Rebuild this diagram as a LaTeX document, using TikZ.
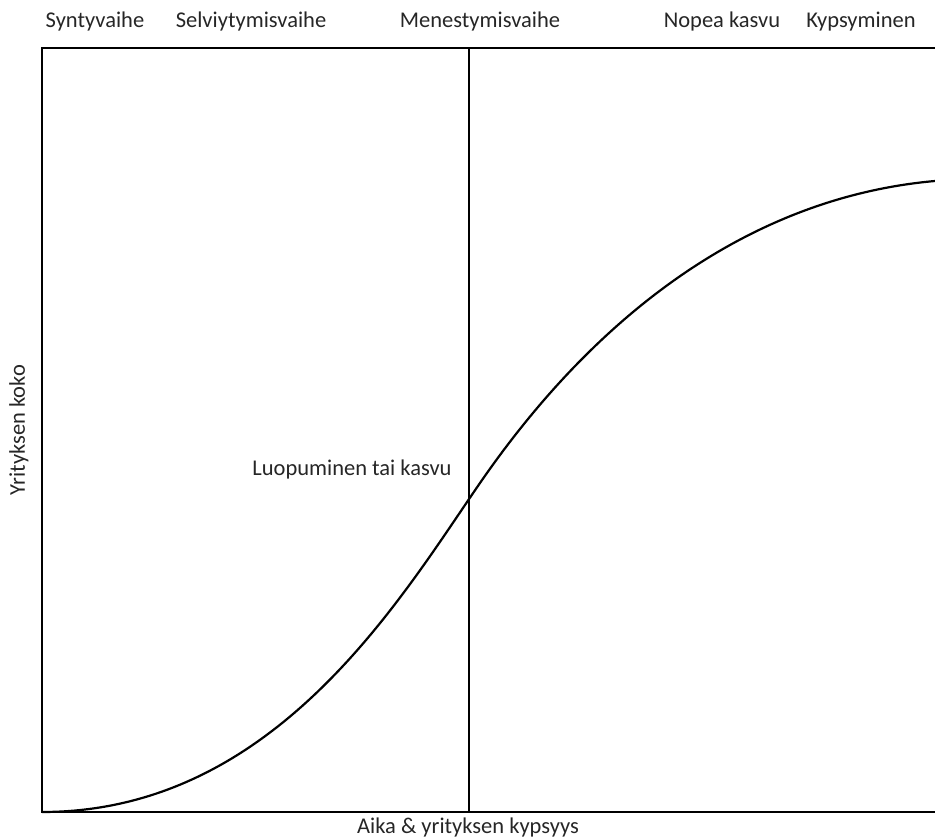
\documentclass[tikz,border=0pt]{standalone}
\usepackage{fontspec}
\setmainfont{Carlito}
\usepackage{tikz}
\definecolor{labelgray}{HTML}{262626}

\tikzset{
  stagelabel/.style={font=\fontsize{22.5}{26}\selectfont, text=labelgray, inner sep=0pt},
  axisline/.style={line width=2.6pt},
  curveline/.style={line width=2.2pt, line join=round}
}

\begin{document}
\begin{tikzpicture}[x=1pt, y=1pt]
\useasboundingbox (0,0) rectangle (935,839);

% ---- Frame (right side runs off the page) ----
\draw[axisline] (935,791) -- (42,791) -- (42,27) -- (935,27);

% Divider between stages
\coordinate (divtop) at (469,791);
\coordinate (divbot) at (469,27);
\draw[line width=2pt] (divtop) -- (divbot);

% ---- Stage labels along the top ----
\node[stagelabel] (synty) at (95,817) {Syntyvaihe};
\node[stagelabel] (selvi) at (251,817) {Selviytymisvaihe};
\node[stagelabel] (menes) at (480,817) {Menestymisvaihe};
\node[stagelabel] (nopea) at (722,817) {Nopea kasvu};
\node[stagelabel] (kypsy) at (861,817) {Kypsyminen};

% ---- Axis titles ----
\node[stagelabel] (xtitle) at (468,12) {Aika \& yrityksen kypsyys};
\node[stagelabel, rotate=90] (ytitle) at (19,409) {Yrityksen koko};

% Label at the crossing point
\node[stagelabel] (luopu) at (352,369) {Luopuminen tai kasvu};

% ---- Growth curve (S-shape, two halves meeting at the inflection) ----
\coordinate (start) at (42,27);
\coordinate (infl) at (480,356);
\coordinate (finish) at (935,658);
\draw[curveline] (start) .. controls (275,27) and (400,240) .. (infl)
  .. controls (600,530) and (755,642) .. (finish);

\end{tikzpicture}
\end{document}
